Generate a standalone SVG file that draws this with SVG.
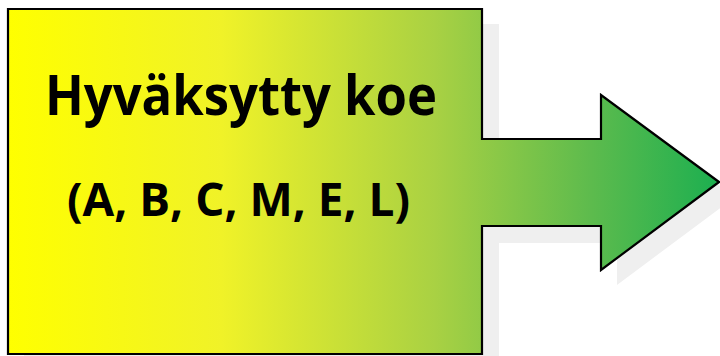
<svg xmlns="http://www.w3.org/2000/svg" width="720" height="356" viewBox="0 0 720 356">
  <defs>
    <linearGradient id="g" gradientUnits="userSpaceOnUse" x1="8" y1="0" x2="719" y2="0">
      <stop offset="0" stop-color="#FFFF00"/>
      <stop offset="0.3" stop-color="#F0F228"/>
      <stop offset="0.6" stop-color="#A9D143"/>
      <stop offset="0.82" stop-color="#5DBB4D"/>
      <stop offset="1" stop-color="#1CAF50"/>
    </linearGradient>
    <style>
      .t { font-family: "Open Sans", "Liberation Sans", sans-serif; font-weight: 700; fill: #000; text-anchor: middle; }
    </style>
  </defs>
  <g id="shadow">
    <path d="M24 24 H499 V156 H617 V110 L735 197 L617 285 V243 H499 V370 H24 Z" fill="#EFEFEF"/>
  </g>
  <g id="node-arrow">
    <path d="M8 9 H482 V139 H601 V95 L719 182 L601 270 V226 H482 V354 H8 Z" fill="url(#g)" stroke="#000" stroke-width="2.2" stroke-linejoin="miter"/>
    <text class="t" x="241" y="115" font-size="56" textLength="392" lengthAdjust="spacingAndGlyphs">Hyväksytty koe</text>
    <text class="t" x="238.5" y="216" font-size="47" textLength="343" lengthAdjust="spacingAndGlyphs">(A, B, C, M, E, L)</text>
  </g>
</svg>
